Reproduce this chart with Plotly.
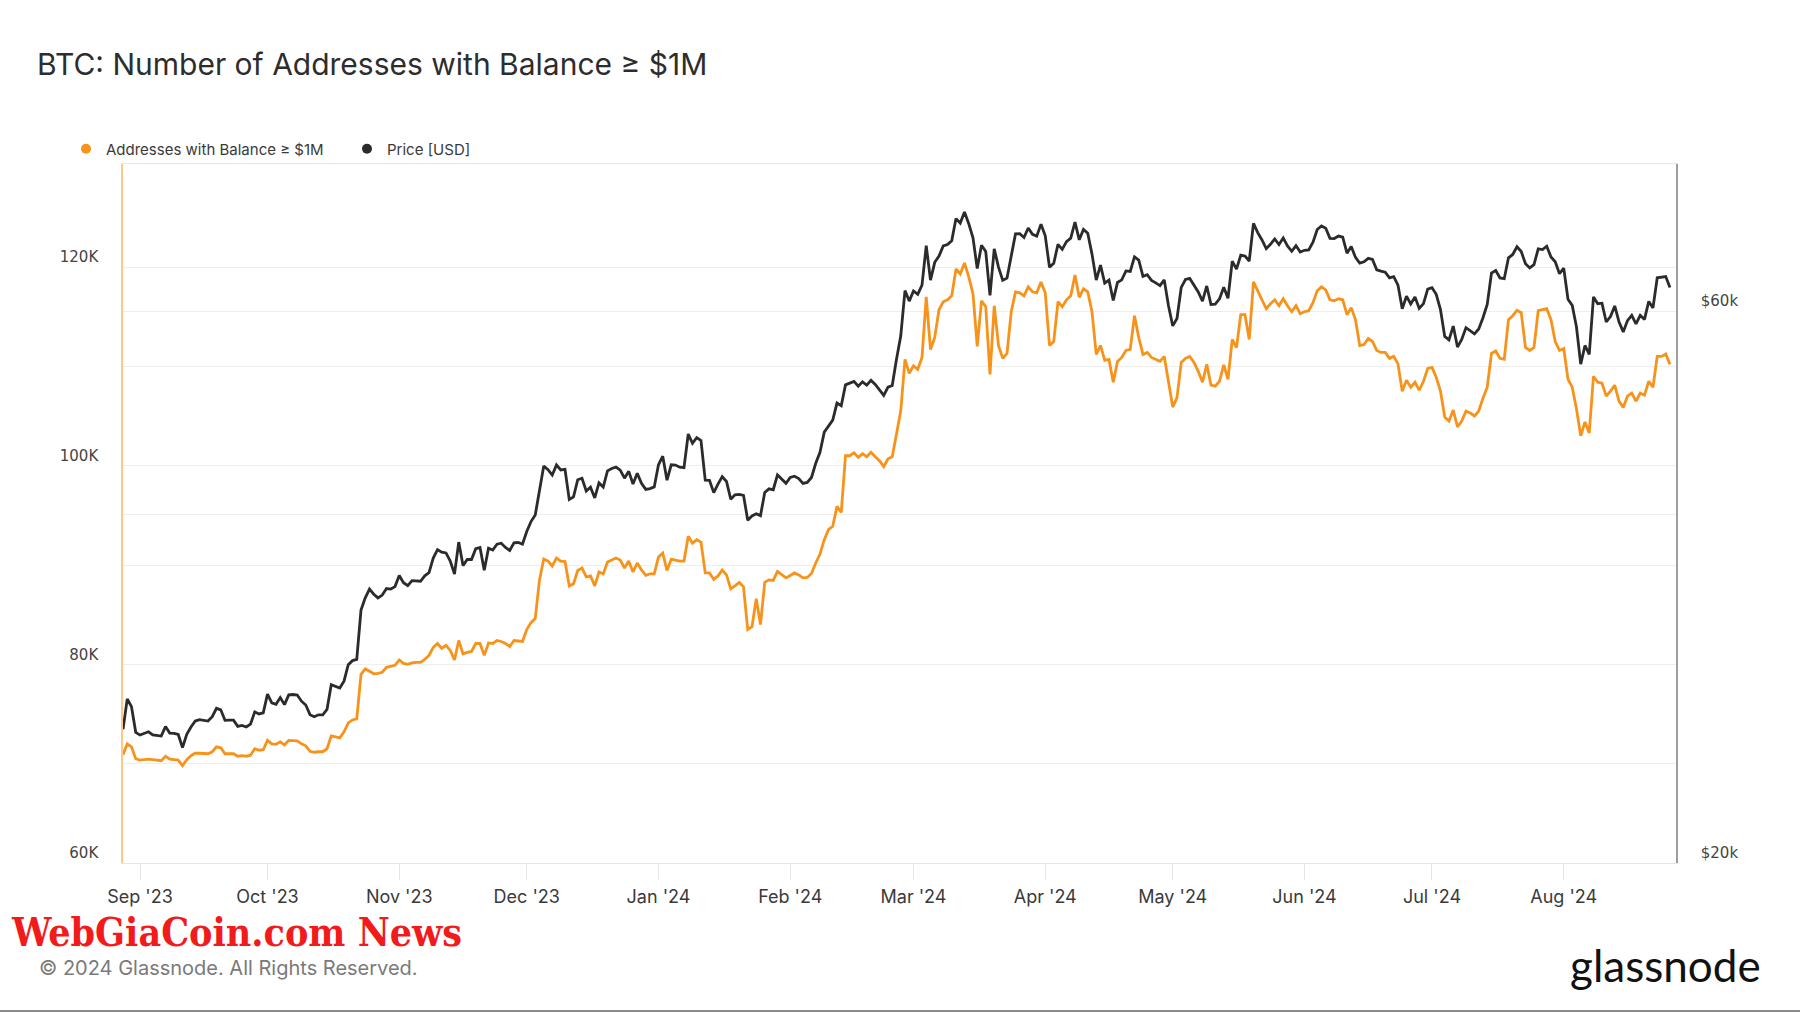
import pandas as pd
import plotly.graph_objects as go

# ---------------- data (daily, starting 2023-08-28) ----------------
start_date = "2023-08-28"

# Addresses with balance >= $1M, in thousands
addresses_k = [
    # Aug 28-31 2023
    70.9, 72.0, 71.7, 70.5,
    # Sep 2023
    70.35, 70.4, 70.45, 70.4, 70.35, 70.3, 70.75, 70.45, 70.4, 70.35,
    69.8, 70.4, 70.8, 71.05, 71.05, 71.0, 71.0, 71.2, 71.7, 71.6,
    71.0, 71.0, 71.0, 70.75, 70.8, 70.75, 70.85, 71.5, 71.35, 71.4,
    # Oct 2023
    72.35, 72.0, 71.95, 72.2, 71.9, 72.35, 72.35, 72.3, 72.0, 71.8,
    71.25, 71.15, 71.2, 71.2, 71.5, 72.8, 72.7, 72.6, 73.2, 74.1,
    74.4, 74.5, 79.0, 79.55, 79.3, 79.05, 79.1, 79.2, 79.7, 79.8, 79.9,
    # Nov 2023
    80.45, 80.1, 80.0, 80.15, 80.2, 80.2, 80.5, 80.9, 81.7, 82.1,
    81.6, 81.9, 81.4, 80.45, 82.4, 81.05, 81.2, 81.3, 82.1, 82.1,
    80.9, 82.15, 82.1, 82.4, 82.3, 82.1, 81.8, 82.4, 82.35, 82.3,
    # Dec 2023
    83.5, 84.2, 84.6, 88.5, 90.6, 90.4, 89.9, 90.7, 90.4, 90.35,
    87.9, 88.1, 89.45, 89.7, 88.8, 88.9, 87.9, 89.3, 89.1, 90.3,
    90.5, 90.7, 90.5, 89.7, 90.4, 89.3, 90.2, 89.5, 88.95, 89.1, 89.1,
    # Jan 2024
    90.8, 91.2, 89.45, 90.6, 90.5, 90.4, 90.4, 92.9, 92.2, 92.55,
    92.3, 89.2, 89.2, 88.55, 88.9, 89.5, 89.0, 87.6, 87.9, 88.25,
    87.8, 83.5, 83.8, 86.6, 84.0, 88.25, 88.5, 88.45, 89.35, 89.0, 88.7,
    # Feb 2024
    88.95, 89.2, 89.0, 88.7, 88.75, 89.15, 90.2, 91.1, 92.55, 93.55,
    93.9, 95.9, 95.3, 101.0, 101.0, 101.3, 100.85, 101.2, 100.9, 101.35,
    100.9, 100.5, 99.9, 100.7, 100.9, 103.2, 105.5, 110.7, 109.3,
    # Mar 2024
    110.05, 109.7, 110.9, 117.0, 111.7, 112.9, 115.7, 116.5, 116.7, 117.1,
    119.8, 119.3, 120.4, 119.0, 117.3, 112.0, 116.6, 116.0, 109.2, 116.1,
    112.1, 110.8, 111.3, 115.5, 117.5, 117.4, 117.1, 118.0, 117.5, 117.4, 118.5,
    # Apr 2024
    117.4, 112.1, 112.5, 116.5, 116.0, 116.7, 117.1, 119.2, 116.95, 117.8,
    117.5, 115.5, 111.2, 112.1, 110.6, 110.7, 108.4, 110.5, 110.9, 111.6,
    111.7, 115.1, 112.9, 111.2, 111.4, 110.9, 110.7, 110.5, 111.0, 108.3,
    # May 2024
    105.9, 106.85, 110.4, 110.8, 111.0, 110.4, 109.5, 108.4, 110.2, 108.1,
    108.0, 108.5, 110.15, 108.7, 112.7, 111.9, 115.2, 115.2, 112.7, 118.5,
    117.6, 116.8, 115.8, 116.3, 116.7, 116.1, 116.8, 116.1, 115.5, 116.1, 115.3,
    # Jun 2024
    115.5, 115.6, 116.4, 117.6, 118.0, 117.7, 116.7, 116.6, 116.8, 116.7,
    115.2, 115.9, 114.7, 112.1, 112.2, 112.8, 112.5, 111.6, 111.4, 111.4,
    110.8, 111.0, 110.25, 107.5, 108.6, 107.9, 108.4, 107.6, 108.5, 109.8,
    # Jul 2024
    109.9, 108.9, 107.5, 104.9, 104.5, 105.6, 103.9, 104.5, 105.5, 105.3,
    105.0, 105.5, 106.8, 107.9, 111.3, 111.55, 110.8, 110.7, 114.7, 115.1,
    115.65, 115.4, 111.9, 111.6, 111.9, 115.6, 115.7, 115.8, 114.7, 112.5, 111.6,
    # Aug 1-26 2024
    111.8, 108.7, 107.9, 105.7, 103.0, 104.4, 103.3, 109.0, 108.4, 108.3,
    107.0, 107.5, 108.1, 106.5, 105.85, 107.0, 107.3, 106.5, 107.3, 107.1,
    108.5, 107.9, 111.0, 111.0, 111.25, 110.2,
]

# BTC price in USD
price_usd = [
    # Aug 28-31 2023
    26100, 27720, 27300, 25940,
    # Sep 2023
    25800, 25870, 25970, 25810, 25780, 25750, 26240, 25900, 25890, 25830,
    25160, 25840, 26220, 26530, 26600, 26570, 26530, 26760, 27210, 27130,
    26570, 26580, 26580, 26250, 26300, 26220, 26370, 27020, 26910, 26970,
    # Oct 2023
    27990, 27510, 27430, 27800, 27410, 27950, 27970, 27940, 27600, 27390,
    26870, 26760, 26860, 26860, 27150, 28520, 28420, 28330, 28720, 29680,
    29920, 29990, 33090, 33900, 34500, 34150, 33900, 34090, 34540, 34500, 34670,
    # Nov 2023
    35440, 34940, 34730, 35080, 35050, 35040, 35420, 35640, 36700, 37310,
    37130, 37070, 36480, 35550, 37880, 36150, 36600, 36590, 37390, 37470,
    35810, 37420, 37290, 37720, 37800, 37480, 37250, 37830, 37850, 37720,
    # Dec 2023
    38690, 39460, 39980, 41980, 44080, 43750, 43290, 44170, 43730, 43790,
    41240, 41450, 42890, 43020, 41940, 42260, 41360, 42620, 42270, 43650,
    43860, 43980, 43720, 43020, 43610, 42520, 43440, 42580, 42070, 42140, 42280,
    # Jan 2024
    44180, 44950, 42850, 44180, 44160, 43970, 43930, 46970, 46120, 46630,
    46370, 42850, 42840, 41800, 42510, 43150, 42740, 41260, 41620, 41660,
    41580, 39570, 39900, 40080, 39930, 41820, 42120, 42040, 43300, 42940, 42580,
    # Feb 2024
    43080, 43190, 42990, 42580, 42660, 43080, 44320, 45300, 47150, 47770,
    48290, 49960, 49700, 51800, 51940, 52160, 51660, 52120, 51780, 52280,
    51840, 51300, 50730, 51570, 51730, 54520, 57080, 62500, 61200,
    # Mar 2024
    62440, 62030, 63170, 68330, 63800, 66110, 66930, 68300, 68500, 69020,
    72120, 71480, 73080, 71400, 69400, 65300, 68390, 67550, 61910, 67910,
    65490, 63780, 64060, 67230, 69960, 69990, 69460, 70780, 69890, 69650, 71330,
    # Apr 2024
    69700, 65460, 65980, 68510, 67840, 68900, 69360, 71620, 69140, 70590,
    70060, 67200, 63820, 65740, 63420, 63810, 61280, 63510, 63840, 64990,
    64930, 66840, 66410, 64280, 64500, 63770, 63460, 63110, 63840, 60640,
    # May 2024
    58250, 59120, 62890, 63890, 64030, 63160, 62330, 61190, 63070, 60790,
    60820, 61470, 62900, 61550, 66270, 65230, 67050, 66940, 66280, 71450,
    70140, 69120, 67930, 68530, 69260, 68500, 69390, 68300, 67580, 68350, 67490,
    # Jun 2024
    67710, 67750, 68800, 70570, 71080, 70760, 69340, 69310, 69650, 69500,
    67320, 68240, 66760, 66010, 66190, 66640, 66490, 65140, 64960, 64830,
    64100, 64250, 63180, 60280, 61800, 60860, 61710, 60320, 60890, 62680,
    # Jul 2024
    62850, 62030, 60170, 57040, 56660, 58230, 55850, 56710, 58050, 57720,
    57340, 57890, 59200, 60800, 64720, 65040, 64090, 63990, 66710, 67150,
    68190, 67550, 65930, 65370, 65800, 67910, 67810, 68260, 66820, 66190, 64620,
    # Aug 1-26 2024
    65350, 61420, 60680, 58120, 53990, 56030, 55030, 61710, 60880, 60940,
    58710, 59350, 60610, 58740, 57560, 58870, 59480, 58480, 59490, 59010,
    61160, 60380, 64100, 64180, 64260, 62880,
]

left_tick_values = [60000, 70000, 80000, 90000, 100000, 110000, 120000]
left_tick_text = ["60K", "", "80K", "", "100K", "", "120K"]
right_tick_values = [20000, 40000, 60000]
right_tick_text = ["$20k", "", "$60k"]

series_names = ["Addresses with Balance ≥ $1M", "Price [USD]"]
series_colors = ["#f7931a", "#2b2b2b"]

# ---------------- figure ----------------
dates = pd.date_range(start_date, periods=len(addresses_k), freq="D")
addresses = [v * 1000 for v in addresses_k]

fig = go.Figure()
fig.add_trace(go.Scatter(
    x=dates, y=addresses, mode="lines", name=series_names[0],
    line=dict(color=series_colors[0], width=2.8), yaxis="y", showlegend=False,
))
fig.add_trace(go.Scatter(
    x=dates[:len(price_usd)], y=price_usd, mode="lines", name=series_names[1],
    line=dict(color=series_colors[1], width=2.8), yaxis="y2", showlegend=False,
))
# legend entries shown as dots
for name, color in zip(series_names, series_colors):
    fig.add_trace(go.Scatter(
        x=[None], y=[None], mode="markers", name=name,
        marker=dict(color=color, size=10, symbol="circle"),
    ))

W, H = 1800, 1013
L, R, T, B = 123, 124, 164, 150
PW, PH = W - L - R, H - T - B


def px_x(x):
    return (x - L) / PW


def px_y(y):
    return (H - B - y) / PH


fig.update_layout(
    width=W, height=H,
    margin=dict(l=L, r=R, t=T, b=B, autoexpand=False),
    paper_bgcolor="white", plot_bgcolor="white",
    title=dict(
        text="BTC: Number of Addresses with Balance ≥ $1M",
        font=dict(family="Inter", size=30, color="#2d2d2d"),
        x=37 / W, xanchor="left", xref="container",
        y=1 - 64 / H, yanchor="middle", yref="container",
    ),
    legend=dict(
        orientation="h",
        xref="container", yref="container",
        x=66 / W, xanchor="left",
        y=1 - 149 / H, yanchor="middle",
        font=dict(family="Inter", size=15, color="#3a3a3a"),
        bgcolor="rgba(0,0,0,0)",
        entrywidth=236, entrywidthmode="pixels",
    ),
    xaxis=dict(
        type="date",
        range=["2023-08-28 00:00", "2024-08-27 10:00"],
        tick0="2023-09-01", dtick="M1", tickformat="%b '%y",
        ticks="outside", ticklen=16, tickcolor="#e6e6e6", tickwidth=1,
        showgrid=False, zeroline=False,
        showline=True, linecolor="#e6e6e6", linewidth=1, mirror=True,
        tickfont=dict(family="Inter", size=18, color="#3a3a3a"),
        ticklabelstandoff=1,
    ),
    yaxis=dict(
        range=[60000, 130370],
        tickvals=left_tick_values, ticktext=left_tick_text,
        showgrid=True, gridcolor="#eeeeee", gridwidth=1,
        zeroline=False,
        showline=True, linecolor="#fcc98a", linewidth=1.5,
        tickfont=dict(family="DejaVu Sans", size=15, color="#444444"),
        ticklabelstandoff=20, ticklabelshift=-10,
    ),
    yaxis2=dict(
        overlaying="y", side="right", type="log",
        range=[4.30103, 4.90526],
        tickvals=right_tick_values, ticktext=right_tick_text,
        showgrid=True, gridcolor="#eeeeee", gridwidth=1,
        zeroline=False,
        showline=True, linecolor="#9e9e9e", linewidth=1.5,
        tickfont=dict(family="DejaVu Sans", size=15, color="#444444"),
        ticklabelstandoff=20, ticklabelshift=-10,
    ),
    annotations=[
        dict(text="<b>WebGiaCoin.com News</b>", xref="paper", yref="paper",
             x=px_x(9), y=px_y(932),
             showarrow=False, xanchor="left", yanchor="middle",
             font=dict(family="DejaVu Serif Condensed, DejaVu Serif", size=39, color="#f21b1b")),
        dict(text="© 2024 Glassnode. All Rights Reserved.", xref="paper", yref="paper",
             x=px_x(37), y=px_y(968),
             showarrow=False, xanchor="left", yanchor="middle",
             font=dict(family="Inter", size=20, color="#7a7a7a")),
        dict(text="glassnode", xref="paper", yref="paper",
             x=px_x(1763), y=px_y(965),
             showarrow=False, xanchor="right", yanchor="middle",
             font=dict(family="Lato", size=44, color="#111111")),
    ],
    shapes=[
        dict(type="line", xref="paper", yref="paper",
             x0=px_x(0), x1=px_x(W),
             y0=px_y(1011), y1=px_y(1011),
             line=dict(color="#8a8a8a", width=2)),
    ],
)

fig.write_html(
    "out.html",
    config={"displayModeBar": False},
    post_script="document.body.style.margin='0px';",
)
